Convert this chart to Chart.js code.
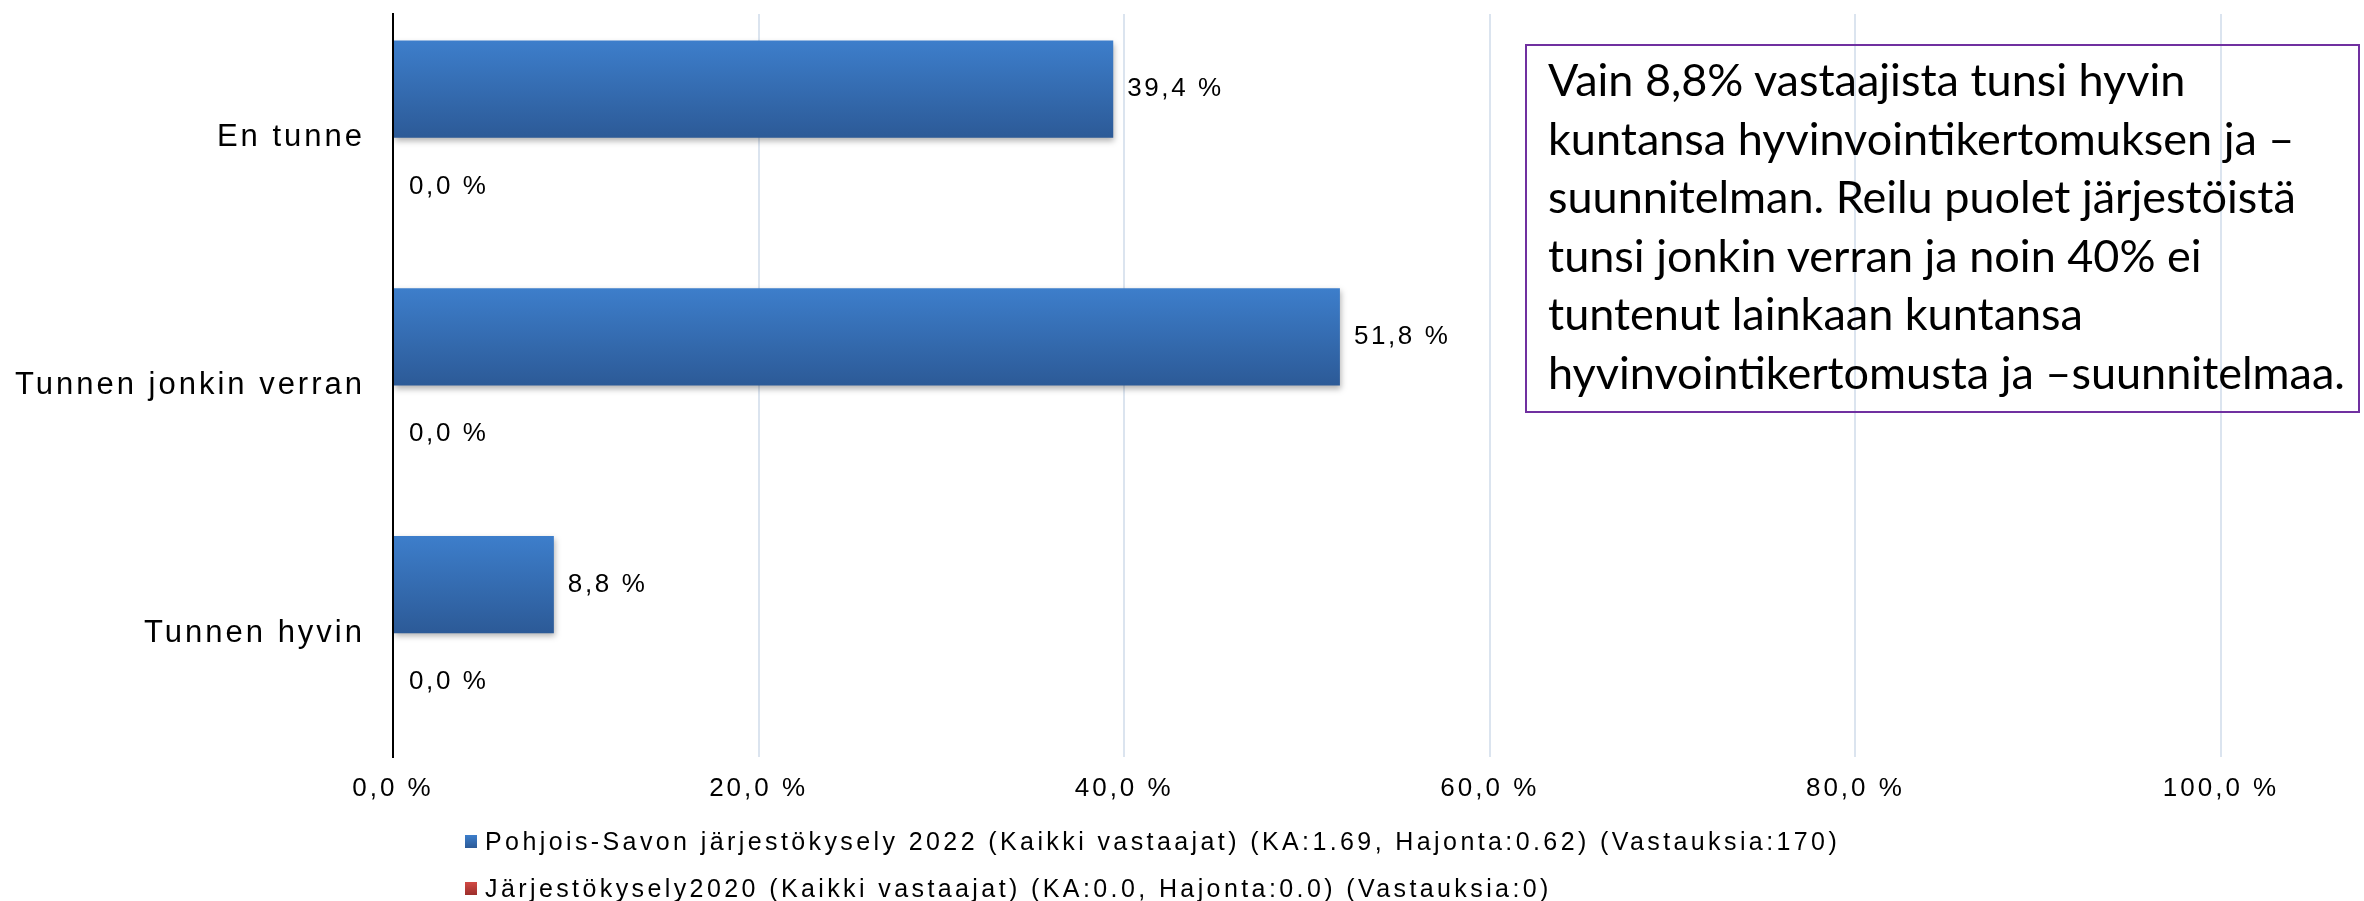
<!DOCTYPE html>
<html>
<head>
<meta charset="utf-8">
<script src="https://cdn.jsdelivr.net/npm/chart.js@4.4.0/dist/chart.umd.min.js"></script>
<style>
  body { margin: 0; background: #fff; }
  #wrap { position: relative; width: 2364px; height: 901px; }
  #note {
    position: absolute; left: 1525px; top: 44px; width: 835px; height: 369px;
    box-sizing: border-box; border: 2px solid #7030a0;
    padding: 4px 0 0 21px;
    font-family: Lato, "Open Sans", sans-serif; font-size: 45px; line-height: 58.6px; color: #000;
    white-space: nowrap;
  }
  #legend {
    position: absolute; left: 465px; top: 818px;
    font-family: "Liberation Sans", Arial, sans-serif; font-size: 25px; letter-spacing: 3.4px; color: #000;
  }
  .row { display: flex; align-items: center; height: 47px; }
  .box { width: 12px; height: 13px; margin-right: 8px; }
</style>
</head>
<body>
<div id="wrap">
  <canvas id="chart" width="2364" height="901"></canvas>
  <div id="note"></div>
  <div id="legend"></div>
</div>
<script>
// ====== data ======
const categories = ["En tunne", "Tunnen jonkin verran", "Tunnen hyvin"];
const series2022 = [39.4, 51.8, 8.8];
const series2020 = [0, 0, 0];
const seriesNames = [
  "Pohjois-Savon järjestökysely 2022 (Kaikki vastaajat) (KA:1.69, Hajonta:0.62) (Vastauksia:170)",
  "Järjestökysely2020 (Kaikki vastaajat) (KA:0.0, Hajonta:0.0) (Vastauksia:0)"
];
const xTicks = [0, 20, 40, 60, 80, 100];
const noteLines = [
  "Vain 8,8% vastaajista tunsi hyvin",
  "kuntansa hyvinvointikertomuksen ja –",
  "suunnitelman. Reilu puolet järjestöistä",
  "tunsi jonkin verran ja noin 40% ei",
  "tuntenut lainkaan kuntansa",
  "hyvinvointikertomusta ja –suunnitelmaa."
];

const seriesColors = [
  { top: "#3d7ecb", bottom: "#2c5a97" },
  { top: "#d24a45", bottom: "#9c2e2b" }
];
const FONT = "'Liberation Sans', Arial, sans-serif";

function pct(v) {
  return v.toFixed(1).replace(".", ",") + " %";
}

// ====== gradient bars, shadow and value labels ======
const barStyle = {
  id: "barStyle",
  beforeDraw(chart) {
    chart.ctx.letterSpacing = "3px";
  },
  beforeDatasetsDraw(chart) {
    const ctx = chart.ctx;
    chart.data.datasets.forEach((ds, i) => {
      chart.getDatasetMeta(i).data.forEach(bar => {
        const h = bar.height / 2;
        const g = ctx.createLinearGradient(0, bar.y - h, 0, bar.y + h);
        g.addColorStop(0, seriesColors[i].top);
        g.addColorStop(1, seriesColors[i].bottom);
        bar.options.backgroundColor = g;
      });
    });
    ctx.save();
    ctx.shadowColor = "rgba(0,0,0,0.3)";
    ctx.shadowBlur = 6;
    ctx.shadowOffsetX = 1;
    ctx.shadowOffsetY = 3;
  },
  afterDatasetsDraw(chart) {
    const ctx = chart.ctx;
    ctx.restore();
    ctx.save();
    ctx.font = "26px " + FONT;
    ctx.letterSpacing = "2.6px";
    ctx.fillStyle = "#000";
    ctx.textBaseline = "middle";
    ctx.textAlign = "left";
    chart.data.datasets.forEach((ds, i) => {
      chart.getDatasetMeta(i).data.forEach((bar, j) => {
        ctx.fillText(pct(ds.data[j]), bar.x + (i === 0 ? 14 : 16), bar.y);
      });
    });
    ctx.restore();
  }
};

const chart = new Chart(document.getElementById("chart"), {
  type: "bar",
  data: {
    labels: categories,
    datasets: [
      { label: seriesNames[0], data: series2022, backgroundColor: () => seriesColors[0].top },
      { label: seriesNames[1], data: series2020, backgroundColor: () => seriesColors[1].top }
    ]
  },
  options: {
    indexAxis: "y",
    responsive: false,
    animation: false,
    categoryPercentage: 0.785,
    barPercentage: 1,
    layout: { autoPadding: false, padding: { top: 14, right: 143, bottom: 94, left: 0 } },
    plugins: { legend: { display: false }, tooltip: { enabled: false } },
    scales: {
      x: {
        min: 0, max: 100,
        afterBuildTicks: s => { s.ticks = xTicks.map(v => ({ value: v })); },
        afterFit: s => { s.height = 50; s.paddingLeft = 0; s.paddingRight = 0; },
        grid: { color: "#dbe4ef", lineWidth: 2, drawTicks: false },
        border: { display: false },
        ticks: { padding: 16, color: "#000", font: { family: FONT, size: 26 }, callback: v => pct(v) }
      },
      y: {
        afterFit: s => { s.width = 393; s.paddingTop = 0; s.paddingBottom = 0; },
        grid: { display: true, drawOnChartArea: false, drawTicks: false },
        border: { display: true, color: "#000", width: 2 },
        ticks: { padding: 28, color: "#000", font: { family: FONT, size: 31 } }
      }
    }
  },
  plugins: [barStyle]
});

// ====== legend and note ======
const legendEl = document.getElementById("legend");
chart.data.datasets.forEach((ds, i) => {
  const row = document.createElement("div");
  row.className = "row";
  const box = document.createElement("span");
  box.className = "box";
  box.style.background = `linear-gradient(${seriesColors[i].top}, ${seriesColors[i].bottom})`;
  const txt = document.createElement("span");
  txt.textContent = ds.label;
  row.appendChild(box);
  row.appendChild(txt);
  legendEl.appendChild(row);
});

const noteEl = document.getElementById("note");
noteLines.forEach(line => {
  const d = document.createElement("div");
  d.textContent = line;
  noteEl.appendChild(d);
});
</script>
</body>
</html>
